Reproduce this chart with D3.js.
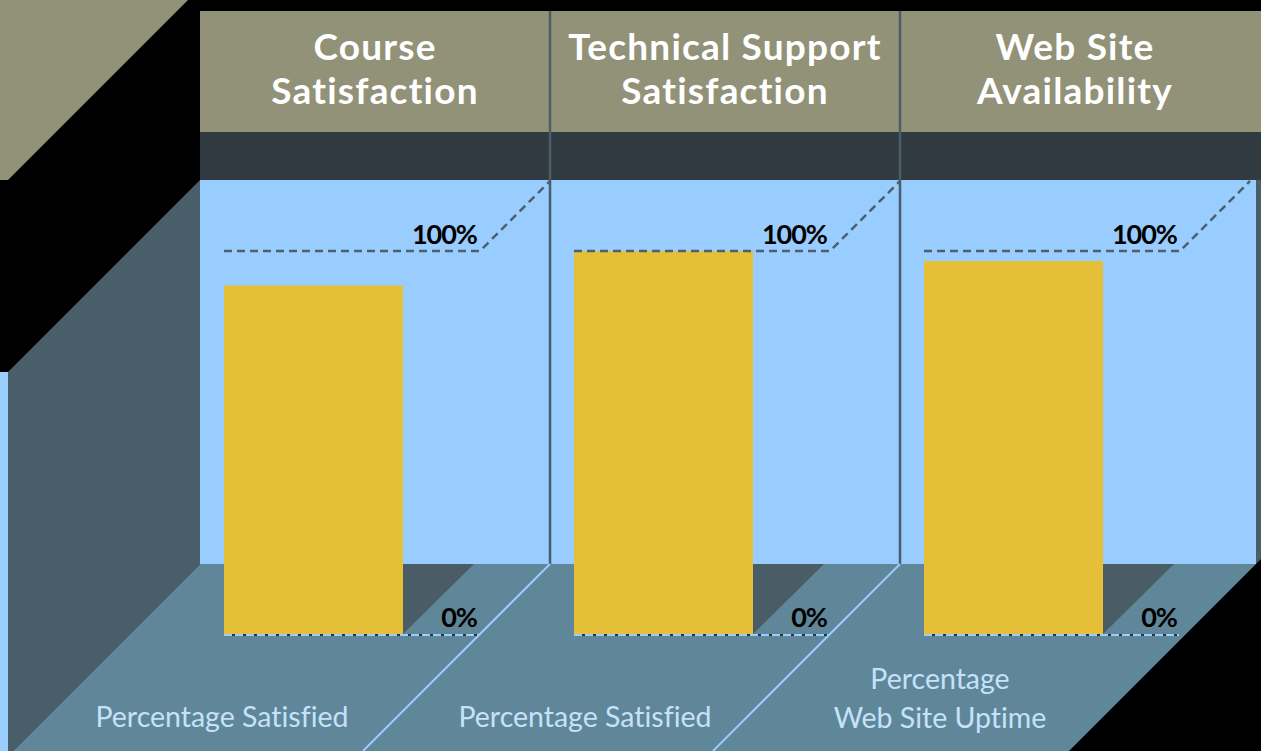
<!DOCTYPE html>
<html><head><meta charset="utf-8">
<script src="https://cdn.jsdelivr.net/npm/d3@7"></script>
<style>html,body{margin:0;padding:0;background:#000;}svg{display:block;}text{font-variant-ligatures:none;}</style>
</head><body>
<svg id="c" width="1261" height="751"></svg>
<script>
const categories = ["Course Satisfaction", "Technical Support Satisfaction", "Web Site Availability"];
const headerLines = [["Course", "Satisfaction"], ["Technical Support", "Satisfaction"], ["Web Site", "Availability"]];
const values = [91, 100, 97.4];
const axisLabels = [["Percentage Satisfied"], ["Percentage Satisfied"], ["Percentage", "Web Site Uptime"]];
const tickLabels = ["0%", "100%"];
const tickValues = [0, 100];

const svg = d3.select("#c");
const W = 1261, H = 751;
const C = {khaki:"#929278", band:"#323a41", sky:"#99ccff", wall:"#4a5e69", floor:"#5f8799", gold:"#e6bf38", shadow:"#4a5d66", text:"#c6e2fb"};

const x = d3.scaleBand().domain(categories).range([200, 1250]).padding(0);
const y = d3.scaleLinear().domain([0, 100]).range([634, 251]);
const backY = 564, topY = 180;
const line = d3.line();

svg.append("rect").attr("width", W).attr("height", H).attr("fill", "#000");
svg.append("path").attr("d", line([[0,0],[188,0],[8,180],[0,180]])).attr("fill", C.khaki);
svg.append("rect").attr("x", 200).attr("y", 11).attr("width", W-200).attr("height", 121).attr("fill", C.khaki);
svg.append("rect").attr("x", 200).attr("y", 132).attr("width", W-200).attr("height", 48).attr("fill", C.band);
svg.append("rect").attr("x", 200).attr("y", topY).attr("width", 1056).attr("height", backY-topY).attr("fill", C.sky);
svg.append("path").attr("d", line([[1256,180],[1261,180],[1261,559],[1256,564]])).attr("fill", C.wall);
svg.append("rect").attr("x", 0).attr("y", 372).attr("width", 8).attr("height", H-372).attr("fill", C.sky);
svg.append("path").attr("d", line([[200,180],[8,372],[8,751],[13,751],[200,564]])).attr("fill", C.wall);
svg.append("path").attr("d", line([[200,backY],[1256,backY],[1069,751],[13,751]])).attr("fill", C.floor);

const dividers = categories.slice(1).map(c => x(c));
svg.selectAll("line.div").data(dividers).enter().append("line")
  .attr("x1", d => d).attr("x2", d => d).attr("y1", 11).attr("y2", backY)
  .attr("stroke", C.wall).attr("stroke-width", 2.5);
svg.selectAll("line.fdiv").data(dividers).enter().append("line")
  .attr("x1", d => d).attr("y1", backY).attr("x2", d => d - (H - backY)).attr("y2", H)
  .attr("stroke", C.sky).attr("stroke-width", 2);

const barOff = 24, barW = 179, lineLen = 279;
const g = svg.selectAll("g.col").data(categories).enter().append("g");

g.append("path").attr("d", d => {
  const bx = x(d) + barOff + barW, depth = y(0) - backY;
  return line([[bx, backY],[bx + depth + 1, backY],[bx, y(0)]]);
}).attr("fill", C.shadow);

g.append("rect")
  .attr("x", d => x(d) + barOff).attr("width", barW)
  .attr("y", (d,i) => y(values[i])).attr("height", (d,i) => y(0) - y(values[i]))
  .attr("fill", C.gold);

g.append("line").attr("x1", d => x(d) + barOff).attr("x2", d => x(d) + lineLen)
  .attr("y1", y(0) + 1).attr("y2", y(0) + 1).attr("stroke", "#2a3238").attr("stroke-width", 2);
g.append("line").attr("x1", d => x(d) + barOff).attr("x2", d => x(d) + lineLen)
  .attr("y1", y(0) + 1).attr("y2", y(0) + 1).attr("stroke", C.sky).attr("stroke-width", 2)
  .attr("stroke-dasharray", "8,3");

g.append("path").attr("d", d => {
  const x0 = x(d) + barOff, x1 = x(d) + lineLen + 1, yy = y(100);
  const up = yy - topY - 1;
  return line([[x0, yy],[x1, yy],[x1 + up, topY + 1]]);
}).attr("fill", "none").attr("stroke", "#4e606b").attr("stroke-width", 2.5).attr("stroke-dasharray", "8,5");

tickValues.forEach((v, k) => {
  g.append("text").attr("x", d => x(d) + 277).attr("y", y(v) - 7)
    .attr("text-anchor", "end").attr("font-family", "Lato, sans-serif").attr("font-weight", 700)
    .attr("font-size", 27).attr("letter-spacing", -1).attr("fill", "#000").text(tickLabels[k]);
});

g.each(function(d, i) {
  const t = d3.select(this).append("text").attr("text-anchor", "middle")
    .attr("font-family", "Lato, sans-serif").attr("font-weight", 700).attr("font-size", 37)
    .attr("letter-spacing", 1.2).attr("fill", "#fff");
  headerLines[i].forEach((s, j) => {
    t.append("tspan").attr("x", x(d) + x.bandwidth()/2).attr("y", 60 + j*44).text(s);
  });
});

const labelShift = [-153, -140, -135];
g.each(function(d, i) {
  const lines = axisLabels[i];
  const t = d3.select(this).append("text").attr("text-anchor", "middle")
    .attr("font-family", "Lato, sans-serif").attr("font-weight", 400).attr("font-size", 28.5).attr("fill", C.text);
  const base = lines.length === 1 ? 727 : 689;
  lines.forEach((s, j) => {
    t.append("tspan").attr("x", x(d) + x.bandwidth()/2 + labelShift[i]).attr("y", base + j*39).text(s);
  });
});
</script>
</body></html>
